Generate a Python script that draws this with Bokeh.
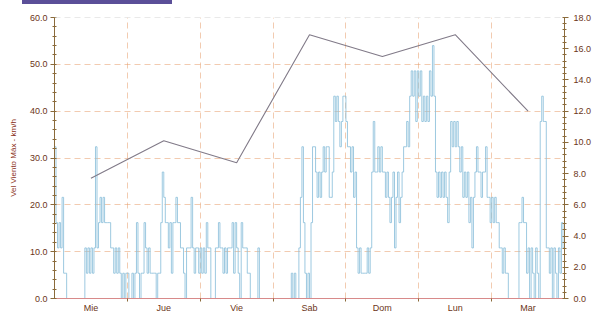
from bokeh.plotting import figure
from bokeh.models import (Range1d, LinearAxis, FixedTicker, SingleIntervalTicker,
                          NumeralTickFormatter, Span, Grid, Div)
from bokeh.layouts import column
from bokeh.embed import file_html
from bokeh.resources import INLINE

# Day labels (tick labels at noon of each day)
days = ["Mie", "Jue", "Vie", "Sab", "Dom", "Lun", "Mar"]

# Half-hourly maximum wind speed, km/h (one list per day)
mie = [32.4, 16.2, 10.8, 16.2, 10.8, 21.6, 5.4, 5.4, 0, 0, 0, 0, 0, 0, 0, 0, 0, 0, 0, 0,
       10.8, 5.4, 10.8, 5.4, 10.8, 5.4, 10.8, 32.4, 10.8, 16.2, 21.6, 16.2, 21.6, 16.2,
       16.2, 16.2, 16.2, 10.8, 10.8, 5.4, 10.8, 5.4, 10.8, 5.4, 0, 5.4, 0, 5.4]
jue = [5.4, 0, 0, 5.4, 0, 5.4, 16.2, 5.4, 0, 5.4, 5.4, 16.2, 10.8, 5.4, 10.8, 5.4, 5.4,
       5.4, 5.4, 0, 5.4, 5.4, 16.2, 27.0, 21.6, 16.2, 16.2, 10.8, 16.2, 5.4, 16.2, 16.2,
       21.6, 16.2, 16.2, 10.8, 10.8, 5.4, 0, 10.8, 10.8, 10.8, 21.6, 10.8, 5.4, 10.8, 10.8, 5.4]
vie = [10.8, 5.4, 10.8, 5.4, 16.2, 10.8, 10.8, 0, 0, 0, 10.8, 10.8, 16.2, 10.8, 10.8, 5.4,
       10.8, 5.4, 10.8, 10.8, 10.8, 16.2, 5.4, 16.2, 10.8, 5.4, 0, 16.2, 10.8, 10.8, 10.8,
       5.4, 5.4, 0, 0, 0, 0, 0, 10.8, 0, 0, 0, 0, 0, 0, 0, 0, 0]
sab = [0, 0, 0, 0, 0, 0, 0, 0, 0, 0, 0, 0, 5.4, 0, 5.4, 0, 0, 10.8, 21.6, 32.4, 16.2, 5.4,
       0, 5.4, 0, 16.2, 32.4, 32.4, 27.0, 21.6, 27.0, 21.6, 27.0, 32.4, 27.0, 32.4, 32.4,
       21.6, 21.6, 27.0, 43.2, 37.8, 43.2, 37.8, 32.4, 37.8, 43.2, 43.2]
dom = [37.8, 32.4, 32.4, 27.0, 32.4, 21.6, 27.0, 10.8, 5.4, 10.8, 5.4, 5.4, 5.4, 5.4, 10.8,
       5.4, 10.8, 27.0, 37.8, 27.0, 27.0, 32.4, 27.0, 32.4, 27.0, 27.0, 21.6, 27.0, 21.6,
       16.2, 21.6, 27.0, 10.8, 21.6, 27.0, 16.2, 21.6, 27.0, 32.4, 32.4, 37.8, 32.4, 43.2,
       48.6, 43.2, 48.6, 37.8, 48.6]
lun = [43.2, 48.6, 37.8, 43.2, 37.8, 43.2, 37.8, 48.6, 43.2, 54.0, 43.2, 27.0, 21.6, 27.0,
       21.6, 27.0, 21.6, 27.0, 21.6, 16.2, 27.0, 37.8, 32.4, 37.8, 32.4, 37.8, 32.4, 27.0,
       32.4, 21.6, 27.0, 21.6, 27.0, 16.2, 21.6, 10.8, 21.6, 27.0, 32.4, 27.0, 27.0, 21.6,
       27.0, 27.0, 32.4, 21.6, 21.6, 16.2]
mar = [21.6, 16.2, 21.6, 16.2, 16.2, 10.8, 10.8, 5.4, 10.8, 5.4, 5.4, 0, 0, 0, 0, 0, 0, 0,
       16.2, 16.2, 21.6, 16.2, 16.2, 5.4, 10.8, 0, 10.8, 5.4, 0, 10.8, 5.4, 0, 37.8, 43.2,
       37.8, 37.8, 10.8, 10.8, 5.4, 10.8, 0, 10.8, 5.4, 0, 10.8, 5.4, 16.2, 10.8]

# Daily values (right axis), plotted at noon of each day
daily = [7.7, 10.1, 8.7, 16.9, 15.5, 16.9, 12.0]

per_day = [mie, jue, vie, sab, dom, lun, mar]
xs, ys = [], []
for d, vals in enumerate(per_day):
    for s, v in enumerate(vals):
        xs.append(d * 24 + s * 0.5)
        ys.append(v)
xs.append(len(days) * 24)
ys.append(ys[-1])
noon = [d * 24 + 12 for d in range(len(days))]
midnights = [d * 24 for d in range(1, len(days))]

BROWN = "#6b3518"
AXIS = "#8a6a3a"
FONT = "Liberation Sans"

p = figure(width=601, height=311, output_backend="svg", toolbar_location=None,
           x_range=Range1d(0, len(days) * 24), y_range=Range1d(0, 60),
           min_border_left=54, min_border_right=37, min_border_top=13, min_border_bottom=15,
           x_axis_location=None, y_axis_location=None)
p.outline_line_color = None
p.background_fill_color = "white"
p.border_fill_color = "white"
p.extra_y_ranges = {"right": Range1d(0, 18)}
p.xgrid.visible = False
p.ygrid.visible = False

# axes
ly = LinearAxis(ticker=SingleIntervalTicker(interval=10, num_minor_ticks=5),
                formatter=NumeralTickFormatter(format="0.0"),
                axis_label="Vel Viento Máx - km/h")
ry = LinearAxis(y_range_name="right", ticker=SingleIntervalTicker(interval=2, num_minor_ticks=5),
                formatter=NumeralTickFormatter(format="0.0"))
xa = LinearAxis(ticker=FixedTicker(ticks=noon, minor_ticks=midnights),
                major_label_overrides={n: dname for n, dname in zip(noon, days)})
for ax in (ly, ry):
    ax.axis_line_color = AXIS
    ax.major_tick_line_color = AXIS
    ax.minor_tick_line_color = AXIS
    ax.major_tick_out = 4
    ax.major_tick_in = 0
    ax.minor_tick_out = 2
    ax.minor_tick_in = 2
    ax.major_label_text_font = FONT
    ax.major_label_text_font_size = "9px"
    ax.major_label_text_color = BROWN
    ax.major_label_standoff = 3
ry.major_label_standoff = 5
ly.axis_label_text_font = FONT
ly.axis_label_text_font_size = "8px"
ly.axis_label_text_font_style = "normal"
ly.axis_label_text_color = "#8b3020"
ly.axis_label_standoff = 9
xa.axis_line_color = "#d88a8a"
xa.major_tick_line_color = None
xa.major_tick_out = 0
xa.minor_tick_line_color = AXIS
xa.minor_tick_out = 3
xa.minor_tick_in = 0
xa.major_label_text_font = FONT
xa.major_label_text_font_size = "9px"
xa.major_label_text_color = BROWN
xa.major_label_standoff = 1
p.add_layout(ly, "left")
p.add_layout(ry, "right")
p.add_layout(xa, "below")

# grids
gx = Grid(dimension=0, ticker=FixedTicker(ticks=midnights), grid_line_color="#e8a070",
          grid_line_alpha=0.55, grid_line_dash="6 4", grid_line_width=1)
gy = Grid(dimension=1, ticker=FixedTicker(ticks=[10, 20, 30, 40, 50]), grid_line_color="#e8a070",
          grid_line_alpha=0.55, grid_line_dash="6 4", grid_line_width=1)
p.add_layout(gx)
p.add_layout(gy)
p.add_layout(Span(location=60, dimension="width", line_color="#d4d4d4", line_dash="6 4",
                  line_width=1))

# data
p.step(xs, ys, mode="after", line_color="#8cc0da", line_width=0.9, line_alpha=0.95)
p.line(noon, daily, y_range_name="right", line_color="#817a88", line_width=1.1)

# header bar above the chart
bar = Div(text="", width=150, height=4, margin=(0, 0, 0, 22),
          styles={"background-color": "#5b4f98"})

open("out.html", "w").write(file_html(column(bar, p, spacing=0), INLINE))
